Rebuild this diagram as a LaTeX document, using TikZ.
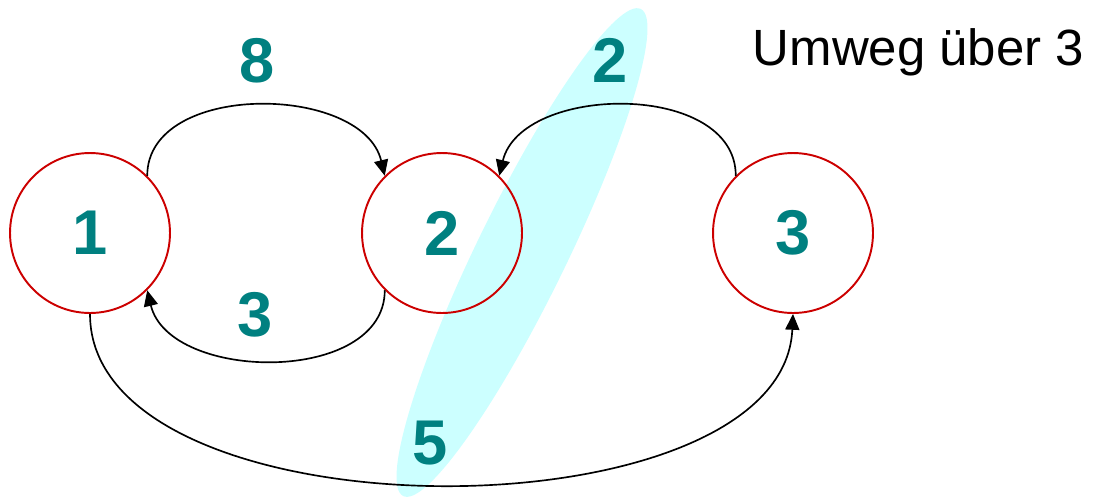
\documentclass[tikz,border=0pt]{standalone}
\usepackage{fontspec}
\setmainfont{Liberation Sans}
\usetikzlibrary{arrows.meta}
\definecolor{teal8}{RGB}{0,128,128}
\definecolor{nodered}{RGB}{204,0,0}
\definecolor{hilite}{RGB}{204,255,255}
\begin{document}
\begin{tikzpicture}[x=0.02cm,y=-0.02cm,
  state/.style={circle,draw=nodered,line width=1.1pt,minimum size=3.2cm,inner sep=0pt,
    font=\bfseries\fontsize{36}{40}\selectfont,text=teal8},
  wlabel/.style={font=\bfseries\fontsize{36}{40}\selectfont,text=teal8,inner sep=0pt},
  conn/.style={line width=0.95pt,-{Triangle[length=9pt,width=8pt]}}]
\useasboundingbox (0,0) rectangle (1101,498);
\fill[hilite,rotate around={64:(522,252.5)}] (522,252.5) ellipse [x radius=5.42cm,y radius=0.9cm];
\node[state] (n1) at (90,233) {1};
\node[state] (n2) at (442,233) {2};
\node[state] (n3) at (793,233) {3};
\draw[conn] (n1.45) .. controls +(0,-95) and +(-22,-92) .. (n2.135);
\draw[conn] (n3.135) .. controls +(0,-95) and +(22,-92) .. (n2.45);
\draw[conn] (n2.225) .. controls +(0,95) and +(22,92) .. (n1.315);
\draw[conn] (n1.south) .. controls +(0,227) and +(-10,227) .. (n3.south);
\node[wlabel] (w8) at (257,61) {8};
\node[wlabel] (w3) at (255,315) {3};
\node[wlabel] (w2) at (610,60) {2};
\node[wlabel] (w5) at (430,443) {5};
\node[font=\fontsize{29}{33}\selectfont,inner sep=0pt,anchor=base] (t) at (918.5,65) {Umweg über 3};
\end{tikzpicture}
\end{document}
